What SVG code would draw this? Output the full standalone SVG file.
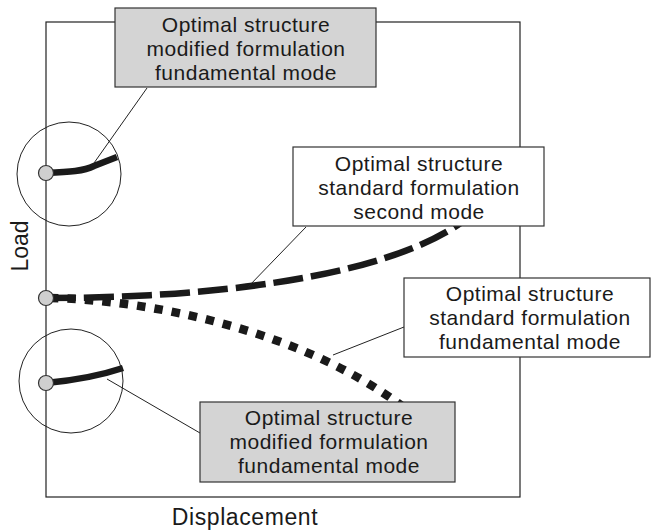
<svg xmlns="http://www.w3.org/2000/svg" width="652" height="532" viewBox="0 0 652 532">
<style>
.frame{fill:none;stroke:#222;stroke-width:1.2}
.box{stroke:#333;stroke-width:1.2}
.gray{fill:#d4d4d4}
.white{fill:#fff}
.lbl{font-family:"Liberation Sans",Arial,sans-serif;font-size:21px;letter-spacing:0.5px;fill:#1a1a1a;text-anchor:middle}
.axis{font-family:"Liberation Sans",Arial,sans-serif;font-size:23px;fill:#1a1a1a;text-anchor:middle}
.lead{fill:none;stroke:#222;stroke-width:1}
.circ{fill:none;stroke:#222;stroke-width:1}
.dot{fill:#cfcfcf;stroke:#333;stroke-width:1.2}
.solid{fill:none;stroke:#1a1a1a;stroke-width:6.5}
.dash{fill:none;stroke:#1a1a1a;stroke-width:6.5;stroke-dasharray:30 8}
.dotted{fill:none;stroke:#1a1a1a;stroke-width:8.5;stroke-dasharray:8.5 9}
</style>
<rect class="frame" x="46" y="22" width="474" height="475"/>
<text class="axis" transform="translate(28,246) rotate(-90)">Load</text>
<text class="axis" x="245" y="525" style="letter-spacing:0.6px">Displacement</text>
<g id="connectors">
<path class="dash" d="M46,298 C200,298 380,280 462,222"/>
<path class="dotted" d="M50,298 C150,300 300,330 402,406"/>
<path class="solid" d="M46,173 C70,172 84,171 94,166 L117,157"/>
<path class="solid" d="M46,383 Q90,379 123,368"/>
<line class="lead" x1="147" y1="88" x2="94" y2="163"/>
<line class="lead" x1="306" y1="227" x2="248" y2="287"/>
<line class="lead" x1="404" y1="327" x2="333" y2="355"/>
<line class="lead" x1="107" y1="379" x2="200" y2="433"/>
</g>
<g id="zoom-top">
<circle class="circ" cx="69" cy="174" r="52"/>
<circle class="dot" cx="46" cy="173" r="7.5"/>
</g>
<g id="zoom-bottom">
<circle class="circ" cx="71" cy="381" r="52"/>
<circle class="dot" cx="46" cy="383" r="7.5"/>
</g>
<g id="origin">
<circle class="dot" cx="46" cy="298" r="7.5"/>
</g>
<g id="box-modified-top">
<rect class="box gray" x="115" y="8" width="261" height="79"/>
<text class="lbl" x="246" y="32">Optimal structure</text>
<text class="lbl" x="246" y="56">modified formulation</text>
<text class="lbl" x="246" y="80">fundamental mode</text>
</g>
<g id="box-standard-second">
<rect class="box white" x="293" y="147" width="251" height="79"/>
<text class="lbl" x="419" y="171">Optimal structure</text>
<text class="lbl" x="419" y="195">standard formulation</text>
<text class="lbl" x="419" y="219">second mode</text>
</g>
<g id="box-standard-fundamental">
<rect class="box white" x="404" y="278" width="246" height="79"/>
<text class="lbl" x="530" y="301">Optimal structure</text>
<text class="lbl" x="530" y="325">standard formulation</text>
<text class="lbl" x="530" y="349">fundamental mode</text>
</g>
<g id="box-modified-bottom">
<rect class="box gray" x="200" y="402" width="255" height="80"/>
<text class="lbl" x="329" y="425">Optimal structure</text>
<text class="lbl" x="329" y="449">modified formulation</text>
<text class="lbl" x="329" y="473">fundamental mode</text>
</g>
</svg>
